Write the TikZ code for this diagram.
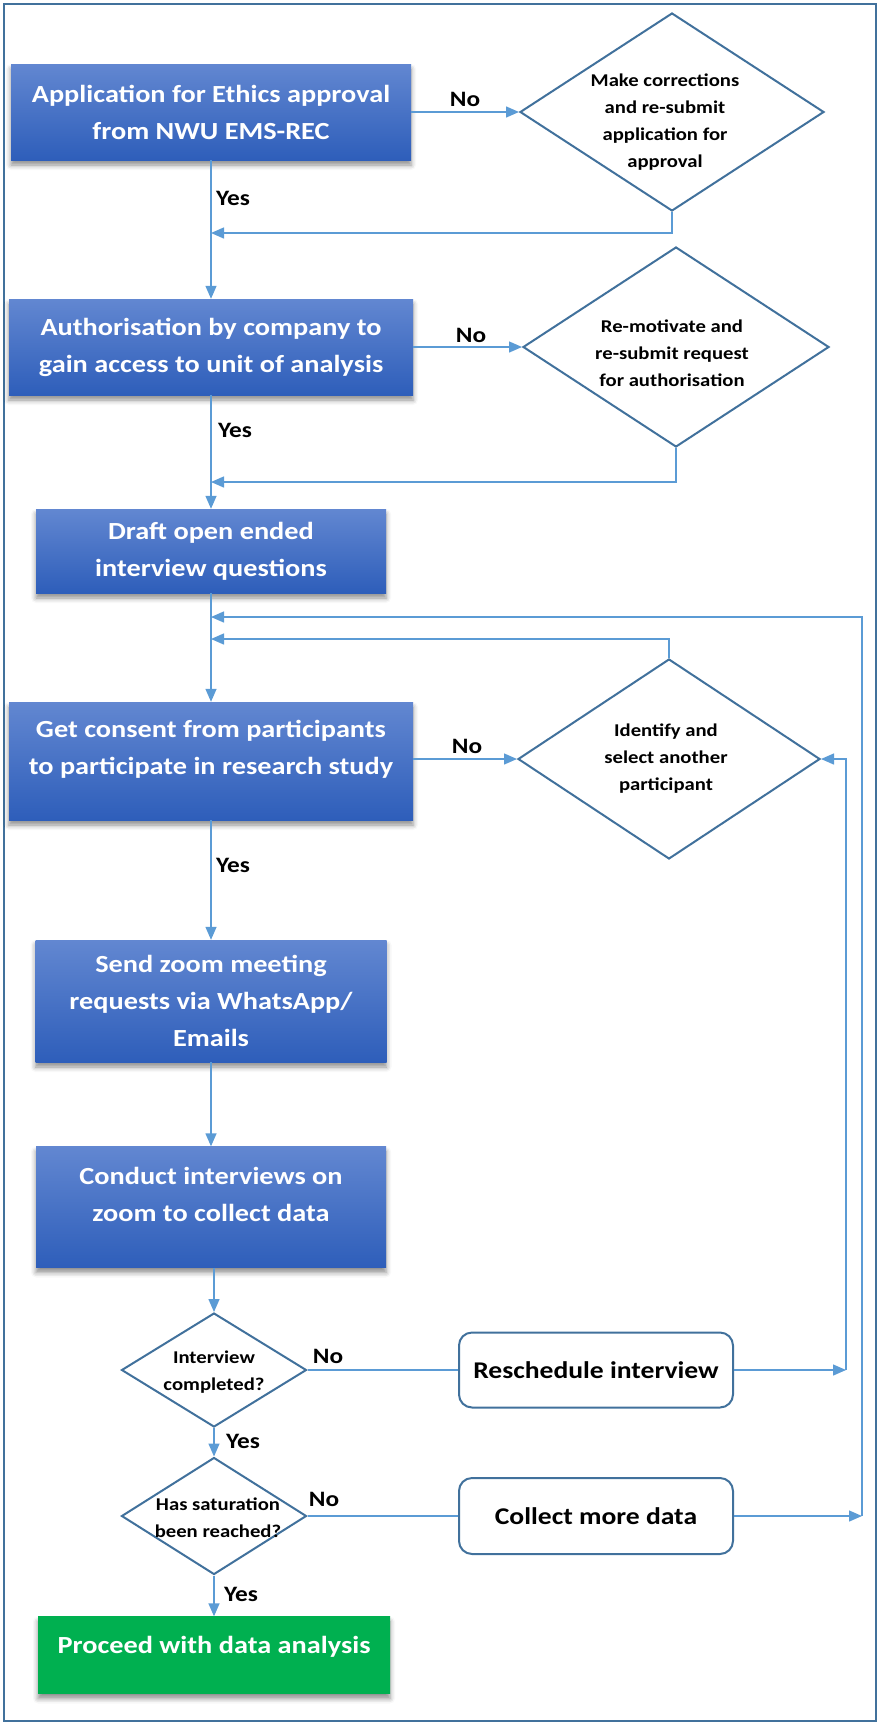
\documentclass[tikz,border=0pt]{standalone}
\usepackage{fontspec}
\setmainfont{Carlito}[FakeStretch=1.15]
\usetikzlibrary{shapes.geometric,arrows.meta,shadows.blur}

\definecolor{boxtop}{HTML}{6287D1}
\definecolor{boxbot}{HTML}{2E5EBA}
\definecolor{goal}{HTML}{00B050}
\definecolor{connblue}{HTML}{5B9BD5}
\definecolor{edgeblue}{HTML}{41719C}

\tikzset{
  procbox/.style={rectangle, inner sep=0pt, top color=boxtop, bottom color=boxbot,
    text=white, align=center, font=\bfseries\fontsize{24.6}{37}\selectfont,
    blur shadow={shadow xshift=0pt, shadow yshift=-5pt, shadow blur radius=5pt, shadow opacity=45}},
  goalbox/.style={procbox, top color=goal, bottom color=goal},
  boxtext/.style={text=white, align=center, inner sep=0pt, font=\bfseries\fontsize{24.6}{37}\selectfont},
  decision/.style={diamond, draw=edgeblue, line width=2pt, fill=white, inner sep=0pt},
  dectext/.style={align=center, inner sep=0pt, font=\bfseries\fontsize{18}{27}\selectfont},
  roundbox/.style={rectangle, rounded corners=13pt, draw=edgeblue, line width=2pt, fill=white,
    inner sep=0pt, font=\bfseries\fontsize{24}{30}\selectfont},
  lbl/.style={inner sep=0pt, font=\bfseries\fontsize{22}{26}\selectfont},
  conn/.style={draw=connblue, line width=1.4pt},
  arr/.style={conn, -{Triangle[length=13pt,width=11pt]}},
}

\begin{document}
\begin{tikzpicture}[x=1pt,y=-1pt]
\useasboundingbox (0,0) rectangle (879,1724);
\draw[edgeblue, line width=2.2pt] (4,4) rectangle (876,1721);

% process steps down the left column
\node[procbox, minimum width=400pt, minimum height=96pt] (b1) at (211,112)
  {Application for Ethics approval\\from NWU EMS-REC};
\node[procbox, minimum width=404pt, minimum height=96pt] (b2) at (211,347)
  {Authorisation by company to\\gain access to unit of analysis};
\node[procbox, minimum width=350pt, minimum height=84pt] (b3) at (211,551)
  {Draft open ended\\interview questions};
\node[procbox, minimum width=404pt, minimum height=118pt] (b4) at (211,761) {};
\node[boxtext] (t4) at (211,749) {Get consent from participants\\to participate in research study};
\node[procbox, minimum width=351pt, minimum height=122pt] (b5) at (211,1001)
  {Send zoom meeting\\requests via WhatsApp/\\Emails};
\node[procbox, minimum width=350pt, minimum height=121pt] (b6) at (211,1207) {};
\node[boxtext] (t6) at (211,1194) {Conduct interviews on\\zoom to collect data};

% decisions
\node[decision, minimum width=304pt, minimum height=198pt] (d1) at (672,112) {};
\node[dectext] at (665,122) {Make corrections\\and re-submit\\application for\\approval};
\node[decision, minimum width=306pt, minimum height=200pt] (d2) at (676,347) {};
\node[dectext] at (672,353) {Re-motivate and\\re-submit request\\for authorisation};
\node[decision, minimum width=302pt, minimum height=200pt] (d3) at (669,759) {};
\node[dectext] at (666,759) {Identify and\\select another\\participant};
\node[decision, minimum width=185pt, minimum height=114pt] (d4) at (214,1370) {};
\node[dectext] at (214,1372) {Interview\\completed?};
\node[decision, minimum width=185pt, minimum height=117pt] (d5) at (214,1516) {};
\node[dectext] at (218,1518) {Has saturation\\been reached?};

% side actions and final step
\node[roundbox, minimum width=274pt, minimum height=75pt] (r1) at (596,1370) {Reschedule interview};
\node[roundbox, minimum width=274pt, minimum height=76pt] (r2) at (596,1516) {Collect more data};
\node[goalbox, minimum width=352pt, minimum height=77pt] (g) at (214,1655) {};
\node[boxtext] (tg) at (214,1647) {Proceed with data analysis};

% junctions on the main line and the return columns
\coordinate (j1) at (211,233);
\coordinate (j2) at (211,482);
\coordinate (j3) at (211,617);
\coordinate (j4) at (211,639);
\coordinate (c4) at (846,1370);
\coordinate (c5) at (862,1516);

% main flow
\draw[arr] (b1) -- (b2);
\draw[arr] (b2) -- (b3);
\draw[arr] (b3) -- (b4);
\draw[arr] (b4) -- (b5);
\draw[arr] (b5) -- (b6);
\draw[arr] (d4.north |- b6.south) -- (d4.north);
\draw[arr] (d4) -- (d5);
\draw[arr] (d5) -- (g);

% "No" branches
\draw[arr] (b1.east) -- (d1.west);
\draw[arr] (b2.east) -- (d2.west);
\draw[arr] (b4.east |- d3.west) -- (d3.west);
\draw[conn] (d4.east) -- (r1.west);
\draw[conn] (d5.east) -- (r2.west);

% returns
\draw[arr] (d1.south) |- (j1);
\draw[arr] (d2.south) |- (j2);
\draw[arr] (d3.north) |- (j4);
\draw[arr] (r1.east) -- (c4);
\draw[arr] (c4) |- (d3.east);
\draw[arr] (r2.east) -- (c5);
\draw[arr] (c5) |- (j3);

% branch labels
\node[lbl] at (465,99) {No};
\node[lbl] at (233,198) {Yes};
\node[lbl] at (471,335) {No};
\node[lbl] at (235,430) {Yes};
\node[lbl] at (467,746) {No};
\node[lbl] at (233,865) {Yes};
\node[lbl] at (328,1356) {No};
\node[lbl] at (243,1441) {Yes};
\node[lbl] at (324,1499) {No};
\node[lbl] at (241,1594) {Yes};
\end{tikzpicture}
\end{document}
